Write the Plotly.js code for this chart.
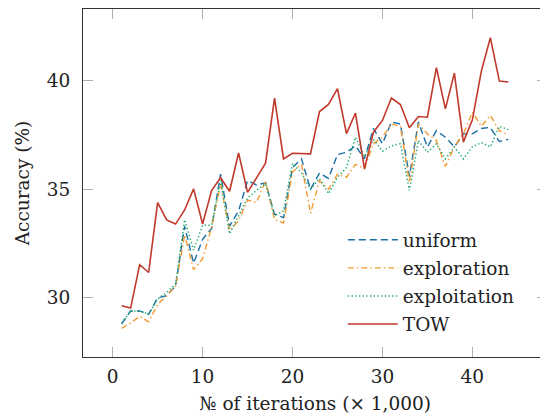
<!DOCTYPE html>
<html>
<head>
<meta charset="utf-8">
<script src="https://cdn.plot.ly/plotly-3.0.1.min.js"></script>
<style>html,body{margin:0;padding:0;overflow:hidden;background:#fff}</style>
</head>
<body>
<div id="chart"></div>
<script>
const iterations = [1,2,3,4,5,6,7,8,9,10,11,12,13,14,15,16,17,18,19,20,21,22,23,24,25,26,27,28,29,30,31,32,33,34,35,36,37,38,39,40,41,42,43,44];
const uniform = [28.8,29.4,29.4,29.25,30.0,30.1,30.55,33.3,31.6,32.7,33.2,35.7,33.3,34.0,35.4,35.2,35.3,33.85,33.7,36.0,36.4,35.0,35.75,35.5,36.6,36.7,37.0,36.4,37.8,37.1,38.1,38.0,35.6,38.1,36.95,37.7,37.4,36.95,37.55,37.55,37.8,37.85,37.2,37.3];
const exploration = [28.6,28.85,29.15,28.9,29.7,30.1,30.55,32.9,31.3,31.8,33.25,35.25,33.1,33.55,34.5,34.4,35.4,33.6,33.45,35.8,36.15,33.9,35.4,35.0,35.7,35.55,36.15,35.95,37.1,37.4,38.0,37.9,35.3,38.0,37.55,37.25,36.05,36.95,37.55,38.55,37.9,38.4,37.7,37.5];
const exploitation = [28.85,29.4,29.4,29.25,29.95,30.25,30.65,33.6,32.2,33.35,33.35,35.4,32.95,33.8,34.6,34.95,35.25,33.8,34.0,36.2,35.75,35.0,35.5,34.8,35.55,36.0,37.4,36.5,37.3,36.75,37.0,37.1,34.95,37.25,36.7,37.1,36.4,36.95,36.4,36.95,37.15,36.95,37.9,37.75];
const tow = [29.64,29.53,31.53,31.17,34.39,33.59,33.40,34.05,35.02,33.40,34.94,35.53,34.91,36.67,34.86,35.55,36.2,39.2,36.4,36.66,36.66,36.63,38.58,38.91,39.63,37.56,38.51,35.94,37.63,38.17,39.2,38.9,37.83,38.35,38.32,40.6,38.7,40.35,37.17,38.2,40.44,41.98,39.98,39.94];
const seriesNames = ["uniform","exploration","exploitation","TOW"];
const xTicks = [0,10,20,30,40];
const yTicks = [30,35,40];

const font = "DejaVu Serif";
const fs = 18.5;
const traces = [
  {x: iterations, y: uniform, name: seriesNames[0], mode: "lines", legendgroup: "a",
   line: {color: "#1a6fa3", width: 1.4, dash: "7px,4px"}},
  {x: iterations, y: exploration, name: seriesNames[1], mode: "lines", legendgroup: "b",
   line: {color: "#f59a33", width: 1.4, dash: "6px,3px,1.5px,3px"}},
  {x: iterations, y: exploitation, name: seriesNames[2], mode: "lines", legendgroup: "c",
   line: {color: "#1aa86a", width: 1.5, dash: "1.3px,2.4px"}},
  {x: iterations, y: tow, name: seriesNames[3], mode: "lines", legendgroup: "d",
   line: {color: "#c0392b", width: 1.6}}
];
const axisCommon = {
  showgrid: false, zeroline: false, showline: true, linecolor: "#333", linewidth: 1,
  mirror: "ticks", ticks: "inside", ticklen: 10, tickcolor: "#b0b0b0", tickwidth: 1,
  tickfont: {family: font, size: fs, color: "#222"}
};
const layout = {
  width: 560, height: 418,
  margin: {l: 83, r: 13, t: 9, b: 61},
  paper_bgcolor: "#fff", plot_bgcolor: "#fff",
  font: {family: font, size: fs, color: "#222"},
  showlegend: true,
  legend: {x: 0.56, y: 0.39, xanchor: "left", yanchor: "top", bgcolor: "rgba(0,0,0,0)",
           itemwidth: 50,
           font: {family: font, size: fs, color: "#222"}, tracegroupgap: 1},
  xaxis: Object.assign({}, axisCommon, {
    range: [-3.3, 48.3], tickvals: xTicks, ticktext: xTicks.map(String), ticklabelstandoff: 3,
    title: {text: "№ of iterations (× 1,000)", font: {family: font, size: fs, color: "#222"}, standoff: 10}
  }),
  yaxis: Object.assign({}, axisCommon, {
    range: [27.28, 43.3], tickvals: yTicks, ticktext: yTicks.map(String), ticklabelstandoff: 8,
    title: {text: "Accuracy (%)", font: {family: font, size: fs, color: "#222"}, standoff: 12}
  })
};
Plotly.newPlot("chart", traces, layout, {displayModeBar: false, staticPlot: true});
</script>
</body>
</html>
